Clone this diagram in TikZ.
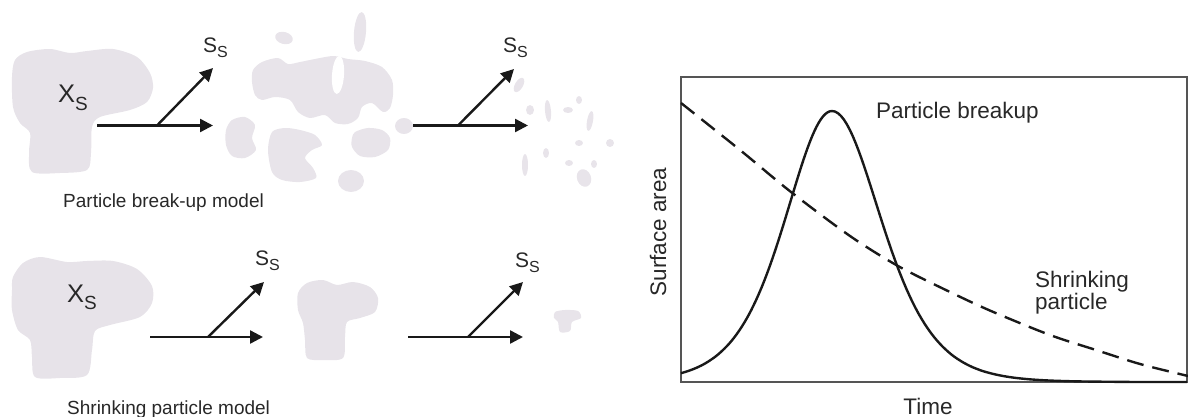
\documentclass[tikz,border=0pt]{standalone}
\usepackage{fontspec}
\setmainfont{Liberation Sans}
\usetikzlibrary{arrows.meta}

\definecolor{blobgrey}{RGB}{231,227,233}
\definecolor{fraggrey}{RGB}{232,228,234}
\definecolor{ink}{RGB}{25,25,25}
\definecolor{txt}{RGB}{40,40,40}
\definecolor{framegrey}{RGB}{85,85,85}

% species labels: large letter with a lowered smaller subscript
\newcommand{\bigspecies}[2]{#1\raisebox{-7pt}{\fontsize{19}{19}\selectfont #2}}
\newcommand{\smallspecies}[2]{#1\raisebox{-5pt}{\fontsize{16}{16}\selectfont #2}}

\tikzset{
  particle/.style={fill=blobgrey, draw=none},
  fragment/.style={fill=fraggrey, draw=none},
  crack/.style={fill=white, draw=none},
  flow/.style={draw=ink, line width=2.4pt, -{Triangle[length=13pt,width=13pt]}},
  caption/.style={font=\fontsize{19}{22}\selectfont, text=txt, inner sep=0pt, anchor=base west},
  xlabel/.style={font=\fontsize{25.5}{26}\selectfont, text=txt, inner sep=0pt, anchor=base west},
  slabel/.style={font=\fontsize{21}{22}\selectfont, text=txt, inner sep=0pt, anchor=base west},
  axislabel/.style={font=\fontsize{22.5}{24}\selectfont, text=txt, inner sep=0pt},
  plotframe/.style={draw=framegrey, line width=1.8pt},
  breakcurve/.style={draw=ink, line width=2.4pt},
  shrinkcurve/.style={draw=ink, line width=2.4pt, dash pattern=on 17pt off 9pt},
}

\begin{document}
\begin{tikzpicture}[x=1pt, y=-1pt]
\useasboundingbox (0,0) rectangle (1188,417);

% ---------------- particle break-up model (top row) ----------------
% initial particle
\fill[particle] plot[smooth cycle] coordinates {
  (12,77) (15,60) (27,52) (50,49) (70,53) (87,51) (113,49) (137,57)
  (150,73) (153,88) (147,102) (130,110) (100,117) (92,127) (91,153)
  (87,170) (60,173) (32,172) (29,153) (30,133) (20,123) (13,107)};
\node[xlabel] (xs1) at (58,103) {\bigspecies{X}{S}};

% first reaction arrow
\coordinate (r1s) at (97,125.5);
\coordinate (r1b) at (157,125.5);
\coordinate (r1e) at (213,125.5);
\coordinate (r1t) at (213,68);
\draw[flow] (r1s) -- (r1e);
\draw[flow] (r1b) -- (r1t);
\node[slabel] (ss1) at (203,53) {\smallspecies{S}{S}};

% particle breaking apart
\fill[fragment] plot[smooth cycle] coordinates {
  (253,70) (262,62) (278,58) (288,64) (300,62) (320,58) (334,56)
  (348,59) (365,61) (382,67) (392,80) (393,95) (390,108) (383,112)
  (372,103) (362,107) (358,118) (348,124) (335,123) (325,115)
  (310,118) (298,112) (290,100) (275,97) (262,100) (255,95) (252,82)};
\fill[crack, rotate around={-4:(338,75)}] (338,75) ellipse [x radius=6, y radius=19];
\fill[fragment] plot[smooth cycle] coordinates {
  (232,120) (245,117) (255,125) (252,138) (256,150) (245,158) (232,156) (226,145) (226,130)};
\fill[fragment] plot[smooth cycle] coordinates {
  (272,132) (285,128) (300,130) (315,135) (322,145) (312,150) (305,158)
  (313,168) (316,178) (300,182) (282,180) (272,172) (268,150)};
\fill[fragment] plot[smooth cycle] coordinates {
  (355,132) (368,128) (382,130) (390,138) (388,150) (375,157) (360,156) (352,147) (352,138)};
\fill[fragment] (351,181) ellipse [x radius=13, y radius=11];
\fill[fragment] (404,126) ellipse [x radius=9, y radius=8];
\fill[fragment, rotate around={-5:(360,32)}] (360,32) ellipse [x radius=6, y radius=20];
\fill[fragment, rotate around={-15:(284,38)}] (284,38) ellipse [x radius=9, y radius=6];

% second reaction arrow
\coordinate (r2s) at (413,125.5);
\coordinate (r2b) at (458,125.5);
\coordinate (r2e) at (528,125.5);
\coordinate (r2t) at (514,69);
\draw[flow] (r2s) -- (r2e);
\draw[flow] (r2b) -- (r2t);
\node[slabel] (ss2) at (503,53) {\smallspecies{S}{S}};

% scattered small fragments
\foreach \cx/\cy/\rx/\ry/\rot in {
  519/85/4/8/-30, 530/110/4/5/0, 548/111/3/11/5, 568/110/5/3/0,
  579/100/3/4/0, 590/121/3/10/-10, 579/143/4/3/0, 610/143/4/4/0,
  525/165/3/11/0, 546/153/3/5/0, 569/163/4/3/0, 594/164/3/4/0,
  584/178/7/9/20}
  \fill[fragment, rotate around={\rot:(\cx,\cy)}] (\cx,\cy) ellipse [x radius=\rx, y radius=\ry];

\node[caption] (cap1) at (63,207) {Particle break-up model};

% ---------------- shrinking particle model (bottom row) ----------------
\fill[particle] plot[smooth cycle] coordinates {
  (13,277) (23,263) (40,257) (67,262) (87,261) (113,261) (137,269)
  (152,286) (152,303) (140,317) (110,325) (95,331) (92,350) (87,375)
  (60,378) (35,377) (32,357) (30,340) (18,330) (12,310) (12,290)};
\node[xlabel] (xs2) at (67,302) {\bigspecies{X}{S}};

\coordinate (r3s) at (150,337);
\coordinate (r3b) at (208,337);
\coordinate (r3e) at (263,337);
\coordinate (r3t) at (264,282);
\draw[flow] (r3s) -- (r3e);
\draw[flow] (r3b) -- (r3t);
\node[slabel] (ss3) at (255,265) {\smallspecies{S}{S}};

\fill[particle] plot[smooth cycle] coordinates {
  (298,293) (307,283) (323,280) (337,285) (353,282) (370,287) (378,298)
  (375,312) (360,318) (347,322) (345,337) (343,358) (323,360) (307,358)
  (305,340) (303,323) (298,310)};

\coordinate (r4s) at (408,337);
\coordinate (r4b) at (468,337);
\coordinate (r4e) at (523,337);
\coordinate (r4t) at (523,282);
\draw[flow] (r4s) -- (r4e);
\draw[flow] (r4b) -- (r4t);
\node[slabel] (ss4) at (515,267) {\smallspecies{S}{S}};

\fill[fragment] plot[smooth cycle] coordinates {
  (555,312) (565,310) (578,311) (581,318) (572,322) (570,331) (560,332) (558,322) (554,318)};

\node[caption] (cap2) at (67,414) {Shrinking particle model};

% ---------------- surface area versus time ----------------
\draw[plotframe] (681,77) rectangle (1187,382);

% break-up: rapid rise to a peak, then decay
\draw[breakcurve]
  plot[domain=681:832, samples=70]
    (\x, {382 - 271*4*exp(-2*(832-\x)/63)/(1+exp(-2*(832-\x)/63))^2})
  -- plot[domain=832:1187, samples=120]
    (\x, {382 - 271*4*exp(-2*(\x-832)/66)/(1+exp(-2*(\x-832)/66))^2});

% shrinking particle: steady decline
\draw[shrinkcurve] plot[smooth] coordinates {
  (681,103) (740,150) (791,192) (850,236) (898,266) (950,292)
  (991,311) (1050,335) (1096,350) (1140,364) (1188,376)};

\node[axislabel, anchor=base west] (lbreak) at (876,119) {Particle breakup};
\node[axislabel, anchor=base west] (lshrink1) at (1035,287) {Shrinking};
\node[axislabel, anchor=base west] (lshrink2) at (1035,309) {particle};
\node[axislabel, anchor=base] (ltime) at (928,414) {Time};
\node[axislabel, rotate=90, anchor=base] (larea) at (666,232) {Surface area};

\end{tikzpicture}
\end{document}
